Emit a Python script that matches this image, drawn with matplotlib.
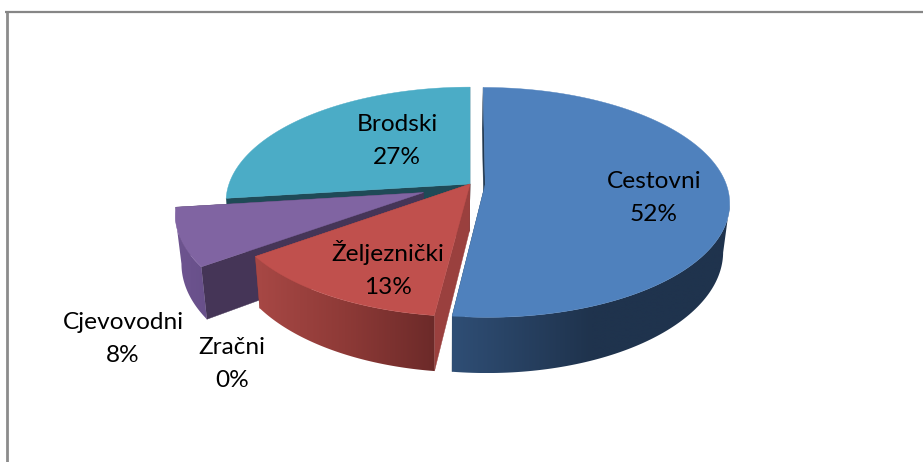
import numpy as np
import matplotlib
matplotlib.use("Agg")
import matplotlib.pyplot as plt
from matplotlib.colors import LinearSegmentedColormap
from matplotlib.patches import Polygon

# order is clockwise from 12 o'clock
labels = ["Cestovni", "Željeznički", "Zračni", "Cjevovodni", "Brodski"]
values = [52, 13, 0, 8, 27]
explode = [0.063, 0.0, 0.0, 0.205, 0.0]
top_colors = ["#4F81BD", "#C0504D", "#9BBB59", "#8064A2", "#4BACC6"]
cut_colors = ["#22384F", "#9A403E", "#7A8F45", "#453557", "#1F4A57"]
wall_colors = [
    ["#2F4E75", "#1F334D", "#1F334D"],
    ["#A84845", "#8E3A37", "#6C2A29"],
    ["#7A8F45", "#7A8F45"],
    ["#6E5490", "#68508A"],
    ["#265663", "#265663"],
]

# draw order, back to front
draw_order = [4, 3, 2, 1, 0]

# where the label text goes, in pixels
label_pos = [(654, 198), (388, 269), (232, 364), (123, 339), (397, 141)]

# projection of the pie
CX, CY = 470, 184
R, H = 241, 112
K = 0.156
DEPTH = 47
SHRINK = 0.977
VANISH_X = 445


def project(x, y, low=False):
    s = 1 / (1 + K * y)
    px = CX + R * x * s
    py = CY - H * y * s
    if low:
        px = VANISH_X + (px - VANISH_X) * SHRINK
        py = py + DEPTH * s
    return px, py


def front_part(points):
    # keeps the stretch of arc between the right and left silhouette points
    px = [p[0] for p in points]
    hi, lo = int(np.argmax(px)), int(np.argmin(px))
    start = hi if hi < lo else 0
    return points[start:lo + 1]


def draw_slice(ax, i, start, stop, z):
    mid = np.radians((start + stop) / 2)
    ox = explode[i] * np.sin(mid)
    oy = explode[i] * np.cos(mid)
    t = np.radians(np.linspace(start, stop, 181))
    xs = ox + np.sin(t)
    ys = oy + np.cos(t)

    # cut faces
    for a in (t[0], t[-1]):
        ex, ey = ox + np.sin(a), oy + np.cos(a)
        face = [project(ox, oy), project(ex, ey), project(ex, ey, True), project(ox, oy, True)]
        ax.add_patch(Polygon(face, closed=True, fc=cut_colors[i], ec=cut_colors[i], lw=0.3, zorder=z))

    # outer wall, a gradient clipped to the wall shape
    upper = [project(a, b) for a, b in zip(xs, ys)]
    lower = [project(a, b, True) for a, b in zip(xs, ys)]
    wall = np.array(front_part(upper) + front_part(lower)[::-1])
    clip = Polygon(wall, closed=True, fc="none", ec="none", transform=ax.transData)
    ax.add_patch(clip)
    cmap = LinearSegmentedColormap.from_list("wall", wall_colors[i])
    grad = np.linspace(0, 1, 256).reshape(1, -1)
    im = ax.imshow(grad, cmap=cmap, aspect="auto", zorder=z + 0.1, interpolation="bilinear",
                   extent=(wall[:, 0].min(), wall[:, 0].max(), wall[:, 1].max(), wall[:, 1].min()))
    im.set_clip_path(clip)

    # top
    outline = [project(ox, oy)] + upper
    ax.add_patch(Polygon(outline, closed=True, fc=top_colors[i], ec=top_colors[i], lw=0.3, zorder=z + 0.2))


fig = plt.figure(figsize=(9.23, 4.62), dpi=100)
ax = fig.add_axes([0, 0, 1, 1])
ax.axis("off")

# chart frame, only top and left show in the crop
ax.plot([6.5, 6.5], [12, 462], color="#8C8C8C", lw=2.0, solid_capstyle="butt")
ax.plot([5, 923], [12, 12], color="#868686", lw=1.6, solid_capstyle="butt")

total = sum(values)
edges = np.concatenate([[0], np.cumsum(values)]) / total * 360
z = 3
for i in draw_order:
    if values[i] > 0:
        draw_slice(ax, i, edges[i], edges[i + 1], z)
        z += 1

for i, name in enumerate(labels):
    pct = round(values[i] / total * 100)
    ax.text(label_pos[i][0], label_pos[i][1], f"{name}\n{pct}%", ha="center", va="center",
            fontsize=17.6, family="Lato", color="black", linespacing=1.75, zorder=20)

ax.set_xlim(0, 923)
ax.set_ylim(462, 0)

fig.savefig("out.png", dpi=100)
plt.close(fig)
